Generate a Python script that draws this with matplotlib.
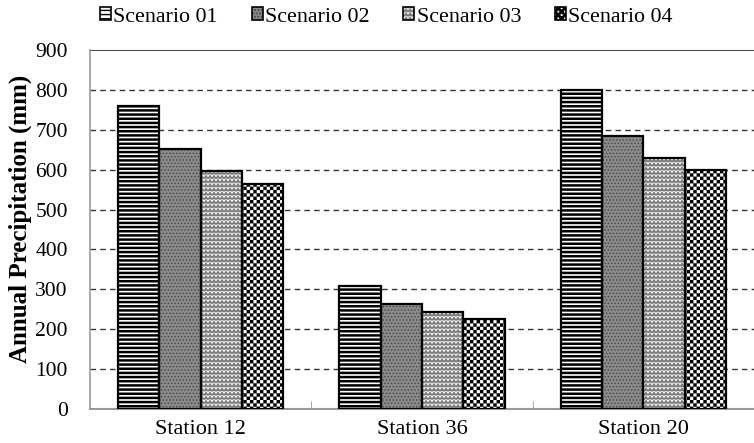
import matplotlib
matplotlib.use("Agg")
import matplotlib.pyplot as plt
import matplotlib.hatch as mhatch
from matplotlib.path import Path
from matplotlib.patches import Rectangle
import numpy as np

stations = ["Station 12", "Station 36", "Station 20"]
series_names = ["Scenario 01", "Scenario 02", "Scenario 03", "Scenario 04"]
s01 = [760, 308, 800]
s02 = [651, 264, 685]
s03 = [596, 242, 628]
s04 = [565, 226, 600]
yticks = [0, 100, 200, 300, 400, 500, 600, 700, 800, 900]


# --- custom hatch textures (wave and checkerboard) ---
class WaveHatch(mhatch.HatchPatternBase):
    rows = 24
    periods = 25

    def __init__(self, hatch, density):
        self.on = hatch.count('O') > 0
        self.per_row = 2 * self.periods + 1
        self.num_vertices = self.rows * self.per_row if self.on else 0

    def set_vertices_and_codes(self, vertices, codes):
        amp = 0.35 / self.rows
        xs = np.linspace(0, 1, self.per_row)
        offs = np.where(np.arange(self.per_row) % 2 == 0, -amp, amp)
        for r in range(self.rows):
            y0 = (r + 0.5) / self.rows
            sl = slice(r * self.per_row, (r + 1) * self.per_row)
            vertices[sl, 0] = xs
            vertices[sl, 1] = y0 + offs
            codes[sl] = Path.LINETO
            codes[r * self.per_row] = Path.MOVETO


class CheckerHatch(mhatch.HatchPatternBase):
    n = 30

    def __init__(self, hatch, density):
        self.on = hatch.count('*') > 0
        self.num_vertices = (self.n * self.n // 2) * 5 if self.on else 0

    def set_vertices_and_codes(self, vertices, codes):
        s = 1.0 / self.n
        k = 0
        for i in range(self.n):
            for j in range(self.n):
                if (i + j) % 2:
                    continue
                x0, y0 = j * s, i * s
                vertices[k:k + 5] = [[x0, y0], [x0 + s, y0], [x0 + s, y0 + s],
                                     [x0, y0 + s], [x0, y0]]
                codes[k:k + 5] = [Path.MOVETO, Path.LINETO, Path.LINETO,
                                  Path.LINETO, Path.CLOSEPOLY]
                k += 5


mhatch._hatch_types = [t for t in mhatch._hatch_types
                       if t.__name__ not in ('LargeCircles', 'Stars')]
mhatch._hatch_types += [WaveHatch, CheckerHatch]

plt.rcParams['font.family'] = ['Liberation Serif', 'DejaVu Serif']

fig = plt.figure(figsize=(7.54, 4.43), dpi=100)
ax = fig.add_axes([90/754, 1-409/443, 1-90/754, (409-50)/443])

styles = [
    dict(face='white', hcol='black', hatch='----', hlw=1.8),
    dict(face='#8a8a8a', hcol='#444444', hatch='.....', hlw=0.6),
    dict(face='white', hcol='#7a7a7a', hatch='O', hlw=0.9),
    dict(face='white', hcol='black', hatch='*', hlw=0.1),
]

data = [s01, s02, s03, s04]
x = np.arange(len(stations))
w = 0.187
handles = []


def apply_hlw(artist, lw):
    if hasattr(artist, 'set_hatch_linewidth'):
        artist.set_hatch_linewidth(lw)


for i, (vals, st) in enumerate(zip(data, styles)):
    pos = x + (i - 1.5) * w
    with plt.rc_context({'hatch.linewidth': st['hlw']}):
        bars = ax.bar(pos, vals, w, color=st['face'], edgecolor=st['hcol'],
                      hatch=st['hatch'], linewidth=0, zorder=3)
        for b in bars:
            apply_hlw(b, st['hlw'])
        h = Rectangle((0, 0), 1, 1, facecolor=st['face'], edgecolor=st['hcol'],
                      hatch=st['hatch'], linewidth=0)
        apply_hlw(h, st['hlw'])
    ax.bar(pos, vals, w, fill=False, edgecolor='black', linewidth=1.6, zorder=4)
    outline = Rectangle((0, 0), 1, 1, fill=False, edgecolor='black', linewidth=1.2)
    handles.append((h, outline))

ax.set_xlim(-0.5, 2.5)
ax.set_ylim(0, 900)
ax.set_yticks(yticks)
ax.set_yticklabels([str(v) for v in yticks])
for v in yticks[1:-1]:
    ax.axhline(v, color='#333333', linestyle=(0, (4, 3)), linewidth=1.0, zorder=1)
ax.axhline(900, color='#333333', linewidth=1.3, zorder=1)

ax.set_xticks(x)
ax.set_xticklabels(stations)
ax.set_xticks([0.5, 1.5], minor=True)
ax.tick_params(axis='x', which='major', length=0, pad=8, labelsize=16)
ax.tick_params(axis='x', which='minor', length=6, direction='in', color='#999999')
ax.tick_params(axis='y', length=0, pad=16, labelsize=15.5)

for s in ['top', 'right']:
    ax.spines[s].set_visible(False)
ax.spines['left'].set_color('#999999')
ax.spines['bottom'].set_color('#999999')
ax.spines['left'].set_linewidth(1.2)
ax.spines['bottom'].set_linewidth(1.5)

ax.set_ylabel("Annual Precipitation (mm)", fontsize=18, fontweight='bold')
ax.yaxis.set_label_coords(-0.088, 0.53)

fig.legend(handles, series_names, loc='center left', bbox_to_anchor=(100/754, 1-17/443),
           ncol=4, frameon=False, fontsize=15.8, handlelength=0.5, handleheight=0.5,
           handletextpad=0.1, columnspacing=1.55, borderpad=0, borderaxespad=0)

fig.savefig("out.png", dpi=100)
